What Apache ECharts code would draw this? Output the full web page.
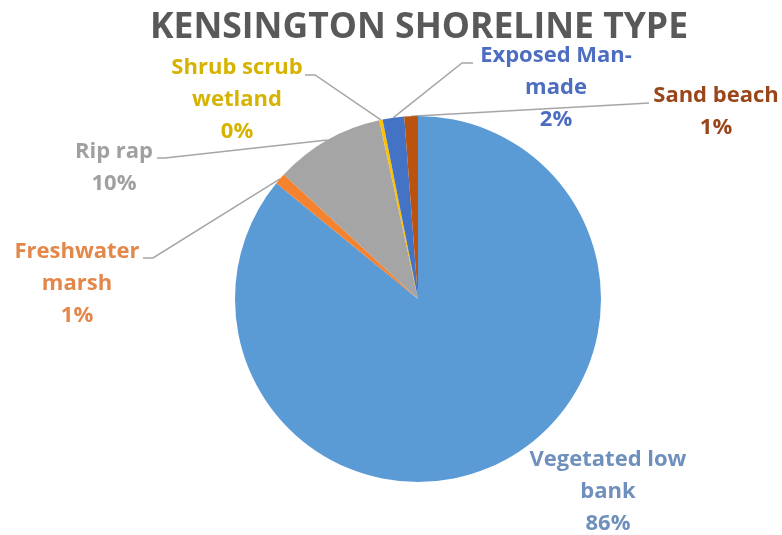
<!DOCTYPE html>
<html>
<head>
<meta charset="utf-8">
<script src="https://cdn.jsdelivr.net/npm/echarts@6/dist/echarts.min.js"></script>
<style>
  html, body { margin: 0; padding: 0; background: #ffffff; }
  #chart { width: 782px; height: 535px; }
</style>
</head>
<body>
<div id="chart"></div>
<script>
// Shoreline categories, clockwise from 12 o'clock
const categories = [
  'Vegetated low\nbank',
  'Freshwater\nmarsh',
  'Rip rap',
  'Shrub scrub\nwetland',
  'Exposed Man-\nmade',
  'Sand beach'
];
// Share of shoreline length (percent)
const shares = [85.9, 1.0, 9.7, 0.3, 1.9, 1.2];

// Slice fills and label colours
const sliceColors = ['#5B9BD5', '#F5822E', '#A5A5A5', '#FFC000', '#4472C4', '#B9530F'];
const labelColors = ['#6F90BC', '#E3874A', '#A0A0A0', '#D6B300', '#4D6DC0', '#99461B'];

// Label block centres and leader-line elbows / ends
const labelPos = [
  { x: 608, y: 492, line: null },
  { x: 77,  y: 284, line: [[153, 258], [143, 258]] },
  { x: 114, y: 168, line: [[165, 158], [157, 158]] },
  { x: 237, y: 100, line: [[315, 75], [305, 75]] },
  { x: 556, y: 88,  line: [[462, 63], [473, 63]] },
  { x: 716, y: 112, line: [[632, 104], [649, 103]] }
];

const cx = 418, cy = 299, R = 183;

const data = categories.map((name, i) => ({
  name: name,
  value: shares[i],
  itemStyle: { color: sliceColors[i] },
  label: { color: labelColors[i] },
  labelLine: { show: labelPos[i].line !== null }
}));

// Point on the rim at the middle of slice i (clockwise from the top)
function rimPoint(i) {
  const total = shares.reduce((a, b) => a + b, 0);
  let before = 0;
  for (let k = 0; k < i; k++) before += shares[k];
  const mid = (before + shares[i] / 2) / total * 2 * Math.PI;
  return [cx + R * Math.sin(mid), cy - R * Math.cos(mid)];
}

const chart = echarts.init(document.getElementById('chart'));
chart.setOption({
  backgroundColor: '#ffffff',
  animation: false,
  title: {
    text: 'KENSINGTON SHORELINE TYPE',
    left: 145,
    top: 5,
    textStyle: {
      fontFamily: 'Open Sans',
      fontWeight: 'bold',
      fontSize: 35.5,
      color: '#595959'
    }
  },
  series: [{
    type: 'pie',
    center: [cx, cy],
    radius: R,
    startAngle: 90,
    clockwise: true,
    percentPrecision: 0,
    avoidLabelOverlap: false,
    data: data,
    label: {
      show: true,
      position: 'outside',
      formatter: '{b}\n{d}%',
      fontFamily: 'Open Sans',
      fontWeight: 'bold',
      fontSize: 22,
      lineHeight: 32,
      align: 'center'
    },
    labelLine: {
      show: true,
      lineStyle: { color: '#A6A6A6', width: 1.5 }
    },
    labelLayout: function (params) {
      const p = labelPos[params.dataIndex];
      const out = { x: p.x, y: p.y, align: 'center', verticalAlign: 'middle' };
      if (p.line) {
        out.labelLinePoints = [rimPoint(params.dataIndex), p.line[0], p.line[1]];
      }
      return out;
    },
    emphasis: { disabled: true }
  }]
});
</script>
</body>
</html>
